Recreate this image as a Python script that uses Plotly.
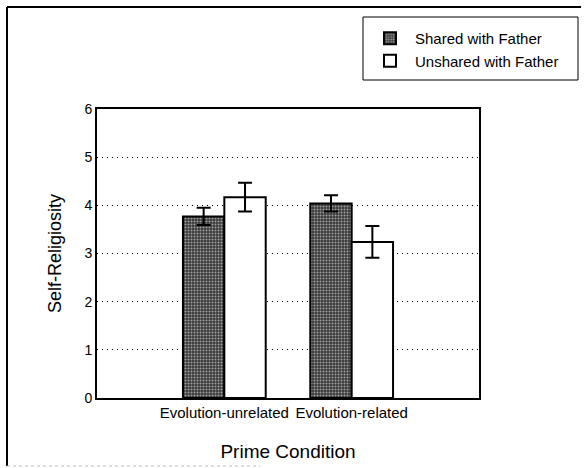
import plotly.graph_objects as go

categories = ["Evolution-unrelated", "Evolution-related"]
shared_values = [3.77, 4.04]
shared_errors = [0.18, 0.17]
unshared_values = [4.17, 3.24]
unshared_errors = [0.30, 0.33]
series_names = ["Shared with Father", "Unshared with Father"]
y_ticks = [0, 1, 2, 3, 4, 5, 6]

FONT = "Liberation Sans, Arial, sans-serif"

fig = go.Figure()
fig.add_trace(go.Bar(
    name=series_names[0], x=categories, y=shared_values,
    marker=dict(color="#444444",
                line=dict(color="black", width=2),
                pattern=dict(shape=".", fgcolor="#a0a0a0", bgcolor="#3a3a3a",
                             size=3, solidity=0.35, fillmode="replace")),
    error_y=dict(type="data", array=shared_errors, color="black",
                 thickness=2, width=7),
))
fig.add_trace(go.Bar(
    name=series_names[1], x=categories, y=unshared_values,
    marker=dict(color="white", line=dict(color="black", width=2)),
    error_y=dict(type="data", array=unshared_errors, color="black",
                 thickness=2, width=7),
))

# plot area in page pixels: x 97..479, y 109..398
def px_x(p):
    return (p - 97) / 382.0

def px_y(p):
    return (398 - p) / 289.0

# outer chart frame (left, top solid; bottom faint)
fig.add_shape(type="line", xref="paper", yref="paper",
              x0=px_x(7), x1=px_x(7), y0=px_y(466), y1=px_y(7),
              line=dict(color="black", width=2))
fig.add_shape(type="line", xref="paper", yref="paper",
              x0=px_x(7), x1=px_x(581), y0=px_y(7), y1=px_y(7),
              line=dict(color="black", width=2))
fig.add_shape(type="line", xref="paper", yref="paper",
              x0=px_x(7), x1=px_x(260), y0=px_y(466), y1=px_y(466),
              line=dict(color="#bbbbbb", width=1, dash="dot"))
# legend box
fig.add_shape(type="rect", xref="paper", yref="paper",
              x0=px_x(363), x1=px_x(578), y0=px_y(80), y1=px_y(17),
              line=dict(color="black", width=1), fillcolor="white", layer="below")

fig.update_layout(
    width=588, height=468,
    margin=dict(l=97, r=109, t=109, b=70),
    paper_bgcolor="white", plot_bgcolor="white",
    font=dict(family=FONT, color="black", size=14),
    barmode="group", bargap=0.35, bargroupgap=0,
    showlegend=True,
    legend=dict(x=px_x(365), y=px_y(22), xanchor="left", yanchor="top",
                bgcolor="rgba(0,0,0,0)", borderwidth=0,
                font=dict(family=FONT, size=15, color="black"),
                traceorder="normal", itemwidth=40),
    xaxis=dict(range=[-1, 2], showline=True, linecolor="black", linewidth=2,
               mirror=True, ticks="", showgrid=False, automargin=False,
               tickfont=dict(size=15),
               title=dict(text="Prime Condition", font=dict(size=19), standoff=25)),
    yaxis=dict(range=[0, 6], tickvals=y_ticks, showline=True, linecolor="black",
               linewidth=2, mirror=True, ticks="", showgrid=True, automargin=False,
               gridcolor="black", griddash="1px,4px", gridwidth=1,
               zeroline=False, tickfont=dict(size=14),
               title=dict(text="Self-Religiosity", font=dict(size=18), standoff=18)),
)

fig.write_html("out.html", config={"displayModeBar": False},
               post_script="document.body.style.margin='0';")
